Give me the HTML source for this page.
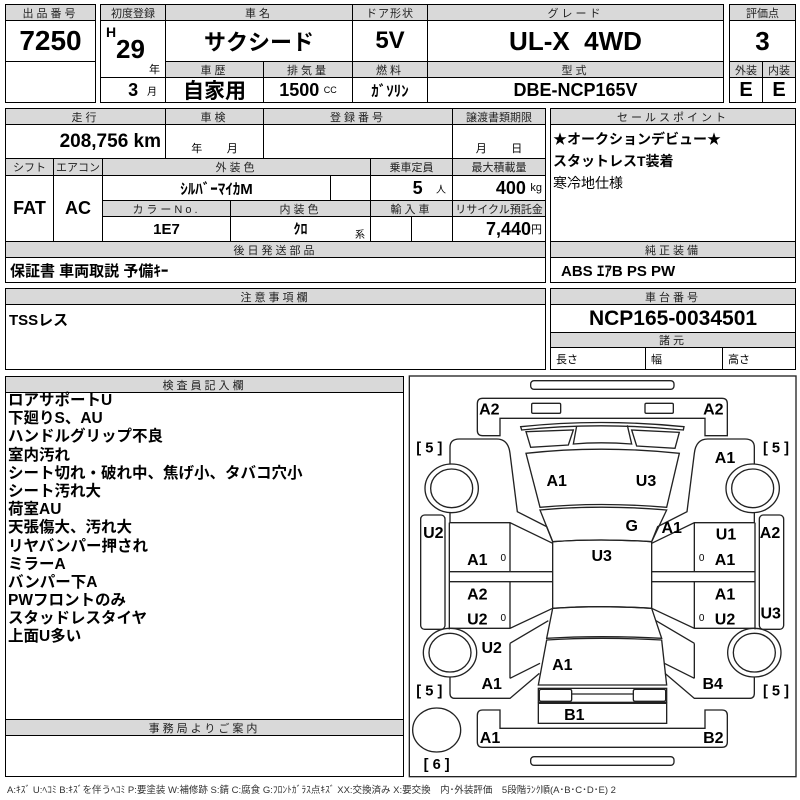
<!DOCTYPE html>
<html><head><meta charset="utf-8">
<style>
*{margin:0;padding:0;box-sizing:border-box}
body{width:800px;height:800px;background:#fff;position:relative;overflow:hidden;font-family:"Liberation Sans","Noto Sans CJK JP",sans-serif;color:#000}
.c{position:absolute;border:1px solid #000;display:flex;align-items:center;justify-content:center;white-space:nowrap;overflow:hidden}
.h{background:#d9d9d9;font-size:11px;letter-spacing:3px;color:#222}
.v{font-weight:bold;font-size:18px}
.big{font-weight:bold;font-size:26px}
.t{position:absolute;white-space:nowrap}
.lines div{font-size:15.5px;font-weight:bold;height:18.2px;line-height:18.2px}
</style></head><body>
<!-- box1 -->
<div class="c h" style="left:5px;top:4px;width:91px;height:17px">出品番号</div>
<div class="c big" style="left:5px;top:20px;width:91px;height:42px;font-size:28px">7250</div>
<div class="c" style="left:5px;top:61px;width:91px;height:42px"></div>
<!-- box2 -->
<div class="c h" style="left:100px;top:4px;width:66px;height:17px;letter-spacing:0">初度登録</div>
<div class="c h" style="left:165px;top:4px;width:188px;height:17px">車名</div>
<div class="c h" style="left:352px;top:4px;width:76px;height:17px;letter-spacing:1px">ドア形状</div>
<div class="c h" style="left:427px;top:4px;width:297px;height:17px">グレード</div>
<div class="c" style="left:100px;top:20px;width:66px;height:58px"></div>
<div class="t" style="left:106px;top:24px;font-weight:bold;font-size:14px">H</div>
<div class="t" style="left:116px;top:34px;font-weight:bold;font-size:26px">29</div>
<div class="t" style="left:149px;top:61px;font-size:11px">年</div>
<div class="c v" style="left:165px;top:20px;width:188px;height:42px;font-size:22px">サクシード</div>
<div class="c v" style="left:352px;top:20px;width:76px;height:42px;font-size:24px">5V</div>
<div class="c v" style="left:427px;top:20px;width:297px;height:42px;font-size:26px">UL-X&nbsp; 4WD</div>
<div class="c h" style="left:165px;top:61px;width:99px;height:17px">車歴</div>
<div class="c h" style="left:263px;top:61px;width:90px;height:17px">排気量</div>
<div class="c h" style="left:352px;top:61px;width:76px;height:17px">燃料</div>
<div class="c h" style="left:427px;top:61px;width:297px;height:17px">型式</div>
<div class="c" style="left:100px;top:77px;width:66px;height:26px;justify-content:flex-end;padding-right:8px"><b style="font-size:18px">3</b>&nbsp;&nbsp;<span style="font-size:10px">月</span></div>
<div class="c v" style="left:165px;top:77px;width:99px;height:26px;font-size:21px">自家用</div>
<div class="c" style="left:263px;top:77px;width:90px;height:26px"><b style="font-size:18px">1500</b>&nbsp;<span style="font-size:9px">CC</span></div>
<div class="c v" style="left:352px;top:77px;width:76px;height:26px;font-size:15px">ｶﾞｿﾘﾝ</div>
<div class="c v" style="left:427px;top:77px;width:297px;height:26px;font-size:18px">DBE-NCP165V</div>
<!-- box3 -->
<div class="c h" style="left:729px;top:4px;width:67px;height:17px;letter-spacing:0">評価点</div>
<div class="c big" style="left:729px;top:20px;width:67px;height:42px">3</div>
<div class="c h" style="left:729px;top:61px;width:34px;height:17px;letter-spacing:0">外装</div>
<div class="c h" style="left:762px;top:61px;width:34px;height:17px;letter-spacing:0">内装</div>
<div class="c v" style="left:729px;top:77px;width:34px;height:26px;font-size:20px">E</div>
<div class="c v" style="left:762px;top:77px;width:34px;height:26px;font-size:20px">E</div>
<!-- block 2 -->
<div class="c h" style="left:5px;top:108px;width:161px;height:17px">走行</div>
<div class="c h" style="left:165px;top:108px;width:99px;height:17px">車検</div>
<div class="c h" style="left:263px;top:108px;width:190px;height:17px">登録番号</div>
<div class="c h" style="left:452px;top:108px;width:94px;height:17px;letter-spacing:0">譲渡書類期限</div>
<div class="c v" style="left:5px;top:124px;width:161px;height:35px;justify-content:flex-end;padding-right:4px;font-size:19px">208,756 km</div>
<div class="c" style="left:165px;top:124px;width:99px;height:35px;align-items:flex-end;font-size:11px;padding-bottom:2px">年&nbsp;&nbsp;&nbsp;&nbsp;&nbsp;&nbsp;&nbsp;&nbsp;月</div>
<div class="c" style="left:263px;top:124px;width:190px;height:35px"></div>
<div class="c" style="left:452px;top:124px;width:94px;height:35px;align-items:flex-end;font-size:11px;padding-bottom:2px">月&nbsp;&nbsp;&nbsp;&nbsp;&nbsp;&nbsp;&nbsp;&nbsp;日</div>
<div class="c h" style="left:5px;top:158px;width:49px;height:18px;letter-spacing:0">シフト</div>
<div class="c h" style="left:53px;top:158px;width:50px;height:18px;letter-spacing:0">エアコン</div>
<div class="c h" style="left:102px;top:158px;width:269px;height:18px">外装色</div>
<div class="c h" style="left:370px;top:158px;width:83px;height:18px;letter-spacing:0">乗車定員</div>
<div class="c h" style="left:452px;top:158px;width:94px;height:18px;letter-spacing:0">最大積載量</div>
<div class="c v" style="left:5px;top:175px;width:49px;height:67px">FAT</div>
<div class="c v" style="left:53px;top:175px;width:50px;height:67px">AC</div>
<div class="c v" style="left:102px;top:175px;width:229px;height:26px;font-size:15px">ｼﾙﾊﾞｰﾏｲｶM</div>
<div class="c" style="left:330px;top:175px;width:41px;height:26px"></div>
<div class="c" style="left:370px;top:175px;width:83px;height:26px;justify-content:flex-end;padding-right:6px"><b style="font-size:18px">5</b>&nbsp;&nbsp;&nbsp;<span style="font-size:10px">人</span></div>
<div class="c" style="left:452px;top:175px;width:94px;height:26px;justify-content:flex-end;padding-right:3px"><b style="font-size:18px">400</b>&nbsp;<span style="font-size:11px">kg</span></div>
<div class="c h" style="left:102px;top:200px;width:129px;height:17px">カラーNo.</div>
<div class="c h" style="left:230px;top:200px;width:141px;height:17px">内装色</div>
<div class="c h" style="left:370px;top:200px;width:83px;height:17px">輸入車</div>
<div class="c h" style="left:452px;top:200px;width:94px;height:17px;letter-spacing:0">リサイクル預託金</div>
<div class="c v" style="left:102px;top:216px;width:129px;height:26px;font-size:15px">1E7</div>
<div class="c v" style="left:230px;top:216px;width:141px;height:26px;font-size:14px">ｸﾛ</div>
<div class="t" style="left:355px;top:226px;font-size:10px">系</div>
<div class="c" style="left:370px;top:216px;width:42px;height:26px"></div>
<div class="c" style="left:411px;top:216px;width:42px;height:26px"></div>
<div class="c" style="left:452px;top:216px;width:94px;height:26px;justify-content:flex-end;padding-right:3px"><b style="font-size:18px">7,440</b><span style="font-size:11px">円</span></div>
<div class="c h" style="left:5px;top:241px;width:541px;height:17px">後日発送部品</div>
<div class="c v" style="left:5px;top:257px;width:541px;height:26px;justify-content:flex-start;padding-left:4px;font-size:15px">保証書 車両取説 予備ｷｰ</div>
<!-- sales point -->
<div class="c h" style="left:550px;top:108px;width:246px;height:17px">セールスポイント</div>
<div class="c" style="left:550px;top:124px;width:246px;height:118px"></div>
<div class="t" style="left:553px;top:128px;font-size:14px;font-weight:bold;line-height:22px">★オークションデビュー★<br>スタットレスT装着<br><span style="font-weight:normal">寒冷地仕様</span></div>
<div class="c h" style="left:550px;top:241px;width:246px;height:17px">純正装備</div>
<div class="c v" style="left:550px;top:257px;width:246px;height:26px;justify-content:flex-start;padding-left:10px;font-size:15px">ABS ｴｱB PS PW</div>
<!-- block3 -->
<div class="c h" style="left:5px;top:288px;width:541px;height:17px">注意事項欄</div>
<div class="c" style="left:5px;top:304px;width:541px;height:66px"></div>
<div class="t" style="left:9px;top:309px;font-size:15px;font-weight:bold">TSSレス</div>
<div class="c h" style="left:550px;top:288px;width:246px;height:17px">車台番号</div>
<div class="c v" style="left:550px;top:304px;width:246px;height:29px;font-size:21px">NCP165-0034501</div>
<div class="c h" style="left:550px;top:332px;width:246px;height:16px">諸元</div>
<div class="c" style="left:550px;top:347px;width:96px;height:23px;justify-content:flex-start;padding-left:5px;font-size:11px">長さ</div>
<div class="c" style="left:645px;top:347px;width:78px;height:23px;justify-content:flex-start;padding-left:5px;font-size:11px">幅</div>
<div class="c" style="left:722px;top:347px;width:74px;height:23px;justify-content:flex-start;padding-left:5px;font-size:11px">高さ</div>
<!-- inspector -->
<div class="c" style="left:5px;top:376px;width:399px;height:401px"></div>
<div class="c h" style="left:5px;top:376px;width:399px;height:17px">検査員記入欄</div>
<div class="t lines" style="left:8px;top:392px">
<div>ロアサポートU</div><div>下廻りS、AU</div><div>ハンドルグリップ不良</div><div>室内汚れ</div><div>シート切れ・破れ中、焦げ小、タバコ穴小</div><div>シート汚れ大</div><div>荷室AU</div><div>天張傷大、汚れ大</div><div>リヤバンパー押され</div><div>ミラーA</div><div>バンパー下A</div><div>PWフロントのみ</div><div>スタッドレスタイヤ</div><div>上面U多い</div></div>
<div class="c h" style="left:5px;top:719px;width:399px;height:17px">事務局よりご案内</div>
<div class="t" style="left:7px;top:782px;font-size:9.5px;color:#333">A:ｷｽﾞ U:ﾍｺﾐ B:ｷｽﾞを伴うﾍｺﾐ P:要塗装 W:補修跡 S:錆 C:腐食 G:ﾌﾛﾝﾄｶﾞﾗｽ点ｷｽﾞ XX:交換済み X:要交換　内･外装評価　5段階ﾗﾝｸ順(A･B･C･D･E) 2</div>
<!-- diagram -->
<svg style="position:absolute;left:400px;top:370px" width="400" height="430" viewBox="0 0 1200 1290">
<g fill="none" stroke="#222" stroke-width="4">
<rect x="28" y="18" width="1160" height="1202" stroke-width="4"/>
<rect x="392" y="32" width="430" height="26" rx="10"/>
<rect x="392" y="1160" width="430" height="26" rx="10"/>
<path d="M248,85 H966 Q982,85 982,101 V197 H915 V145 H300 V197 H248 Q232,197 232,181 V101 Q232,85 248,85 Z"/>
<rect x="395" y="100" width="87" height="30" rx="4"/>
<rect x="735" y="100" width="85" height="30" rx="4"/>
<path d="M248,1020 H300 V1075 H915 V1020 H966 Q982,1020 982,1036 V1116 Q982,1132 966,1132 H248 Q232,1132 232,1116 V1036 Q232,1020 248,1020 Z"/>
<path d="M362,170 Q600,145 852,170 L850,180 Q600,155 365,180 Z"/>
<path d="M378,185 L520,180 L505,225 L392,232 Z"/>
<path d="M695,180 L838,187 L825,235 L710,228 Z"/>
<path d="M530,168 L520,222 Q600,215 695,222 L682,166"/>
<path d="M378,250 Q600,225 838,250 L800,412 Q600,395 420,412 Z"/>
<path d="M420,420 Q600,403 800,420 L755,515 Q600,505 458,515 Z"/>
<path d="M458,515 Q600,505 755,515 V715 Q600,705 458,715 Z"/>
<path d="M458,715 Q600,705 755,715 L785,805 Q600,795 440,805 Z"/>
<path d="M440,810 Q600,800 785,810 L800,945 H415 Z"/>
<rect x="415" y="955" width="385" height="42"/>
<rect x="418" y="958" width="97" height="36" rx="5"/>
<rect x="700" y="958" width="97" height="36" rx="5"/>
<line x1="515" y1="972" x2="700" y2="972"/>
<rect x="415" y="1000" width="385" height="60"/>
<ellipse cx="110" cy="1080" rx="72" ry="66"/>
<g id="side">
<path d="M150,282 V232 Q150,207 178,207 H290 Q325,207 330,250 L352,425 L440,470 L458,515"/>
<path d="M150,428 V458"/>
<ellipse cx="155" cy="355" rx="80" ry="73"/>
<ellipse cx="155" cy="355" rx="63" ry="58"/>
<ellipse cx="150" cy="848" rx="80" ry="73"/>
<ellipse cx="150" cy="848" rx="63" ry="58"/>
<rect x="62" y="435" width="73" height="343" rx="12"/>
<path d="M148,458 H330 L458,520 M330,458 V605 M148,458 V778 M148,605 H458 M148,635 H458 M330,635 V775 M148,775 H330 L458,715"/>
<path d="M330,820 L445,752 M330,925 L420,880 M330,820 V925"/>
<path d="M150,920 V970 Q150,985 165,985 H330 L418,910"/>
</g>
<use href="#side" transform="translate(1213,0) scale(-1,1)"/>
</g>
<g font-family="Liberation Sans, sans-serif" font-weight="bold" font-size="48" text-anchor="middle" dominant-baseline="central" fill="#000">
<text x="268" y="120">A2</text><text x="940" y="120">A2</text>
<text x="975" y="265">A1</text><text x="470" y="335">A1</text><text x="738" y="335">U3</text>
<text x="100" y="490">U2</text><text x="695" y="470">G</text><text x="815" y="475">A1</text>
<text x="978" y="495">U1</text><text x="1110" y="490">A2</text>
<text x="232" y="572">A1</text><text x="605" y="560">U3</text><text x="975" y="572">A1</text>
<text x="232" y="675">A2</text><text x="975" y="675">A1</text>
<text x="232" y="750">U2</text><text x="975" y="750">U2</text><text x="1112" y="732">U3</text>
<text x="275" y="835">U2</text><text x="487" y="887">A1</text>
<text x="275" y="943">A1</text><text x="938" y="943">B4</text>
<text x="523" y="1037">B1</text><text x="270" y="1105">A1</text><text x="940" y="1105">B2</text>
<g font-size="30" font-weight="normal"><text x="310" y="565">0</text><text x="905" y="565">0</text><text x="310" y="745">0</text><text x="905" y="745">0</text></g>
<g font-size="44"><text x="88" y="235">[ 5 ]</text><text x="1128" y="235">[ 5 ]</text><text x="88" y="965">[ 5 ]</text><text x="1128" y="965">[ 5 ]</text><text x="110" y="1185">[ 6 ]</text></g>
</g>
</svg>
</body></html>
